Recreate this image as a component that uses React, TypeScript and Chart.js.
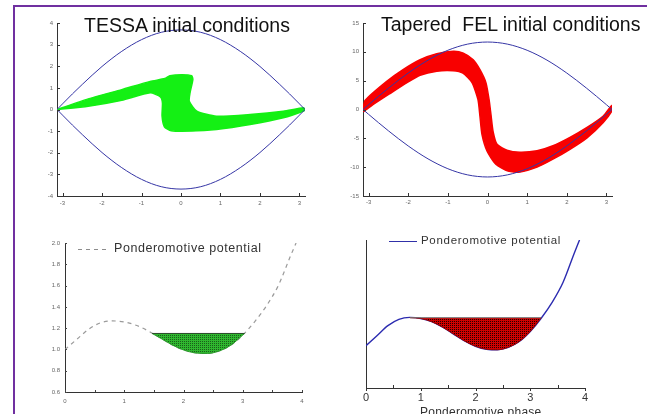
import React, { useEffect, useRef } from 'react';
import { Chart, registerables } from 'chart.js';

Chart.register(...registerables);

const FONT = "'Liberation Sans', Arial, sans-serif";

// ---------- top-left: TESSA ----------
const SEP_PHASE = [-3.14, -3, -2.75, -2.5, -2, -1.5, -1, -0.5, 0, 0.5, 1, 1.5, 2, 2.5, 2.75, 3, 3.14];
const TESSA_SEP_UPPER = [0, 0.26, 0.72, 1.16, 1.99, 2.69, 3.23, 3.57, 3.68, 3.57, 3.23, 2.69, 1.99, 1.16, 0.72, 0.26, 0];
const TESSA_SEP_LOWER = [0, -0.26, -0.72, -1.16, -1.99, -2.69, -3.23, -3.57, -3.68, -3.57, -3.23, -2.69, -1.99, -1.16, -0.72, -0.26, 0];
const TESSA_CLOUD_PHASE = [-3.14, -2.35, -1.5, -0.78, -0.41, -0.28, 0.02, 0.27, 0.3, 0.23, 0.21, 0.4, 0.9, 1.75, 2.59, 3.1, 3.14, 3.09, 2.59, 1.75, 0.9, 0.23, -0.25, -0.42, -0.48, -0.47, -0.52, -0.78, -1.5, -2.35, -3.14];
const TESSA_CLOUD_ENERGY = [0, 0.49, 0.92, 1.3, 1.43, 1.56, 1.61, 1.56, 1.38, 0.78, 0.38, -0.08, -0.31, -0.23, -0.08, 0.08, 0, -0.08, -0.38, -0.69, -0.92, -1.0, -0.98, -0.8, -0.3, 0.3, 0.58, 0.77, 0.43, 0.15, 0];
const TESSA_X_TICKS = [-3, -2, -1, 0, 1, 2, 3];
const TESSA_Y_TICKS = [-4, -3, -2, -1, 0, 1, 2, 3, 4];

// ---------- top-right: tapered FEL ----------
const FEL_SEP_UPPER = [0, 0.83, 2.28, 3.69, 6.32, 8.56, 10.27, 11.34, 11.7, 11.34, 10.27, 8.56, 6.32, 3.69, 2.28, 0.83, 0];
const FEL_SEP_LOWER = [0, -0.83, -2.28, -3.69, -6.32, -8.56, -10.27, -11.34, -11.7, -11.34, -10.27, -8.56, -6.32, -3.69, -2.28, -0.83, 0];
const FEL_CLOUD_PHASE = [-3.14, -3.09, -2.55, -2.13, -1.7, -1.28, -0.86, -0.61, -0.36, -0.19, -0.04, 0.04, 0.09, 0.14, 0.24, 0.49, 0.82, 1.25, 1.65, 2.08, 2.51, 2.92, 3.13, 3.14, 2.92, 2.51, 2.08, 1.65, 1.25, 0.82, 0.52, 0.21, -0.01, -0.14, -0.19, -0.24, -0.39, -0.62, -0.87, -1.28, -1.7, -2.03, -2.46, -2.92, -3.12, -3.14];
const FEL_CLOUD_ENERGY = [0, 1.55, 4.83, 6.9, 8.62, 9.66, 10.09, 9.78, 8.62, 6.9, 4.66, 1.72, -1.03, -3.79, -6.03, -7.07, -7.41, -7.16, -6.29, -4.83, -3.1, -1.12, 0.69, -0.2, -2.24, -4.91, -6.9, -8.62, -10.0, -10.86, -10.69, -9.48, -7.24, -4.31, -1.21, 1.72, 4.66, 6.29, 6.72, 6.64, 5.95, 4.66, 2.76, 0.69, -0.34, 0];
const FEL_X_TICKS = [-3, -2, -1, 0, 1, 2, 3];
const FEL_Y_TICKS = [-15, -10, -5, 0, 5, 10, 15];

// ---------- bottom: ponderomotive potential ----------
const POT_PHASE = [0, 0.2, 0.4, 0.6, 0.8, 1.0, 1.2, 1.4, 1.6, 1.8, 2.0, 2.2, 2.4, 2.6, 2.8, 3.0, 3.2, 3.4, 3.6, 3.8, 3.9];
const POT_VALUE = [1.0, 1.095, 1.19, 1.25, 1.268, 1.258, 1.227, 1.175, 1.11, 1.045, 0.995, 0.967, 0.962, 0.985, 1.04, 1.135, 1.26, 1.41, 1.6, 1.87, 2.0];
const TESSA_WELL_PHASE = [1.47, 1.6, 1.8, 2.0, 2.2, 2.4, 2.6, 2.8, 3.0, 3.03];
const TESSA_WELL_VALUE = [1.15, 1.11, 1.045, 0.995, 0.967, 0.962, 0.985, 1.04, 1.135, 1.15];
const TESSA_LEVEL = 1.15;
const FEL_WELL_PHASE = [0.8, 1.0, 1.2, 1.4, 1.6, 1.8, 2.0, 2.2, 2.4, 2.6, 2.8, 3.0, 3.2];
const FEL_WELL_VALUE = [1.265, 1.258, 1.227, 1.175, 1.11, 1.045, 0.995, 0.967, 0.962, 0.985, 1.04, 1.135, 1.265];
const FEL_LEVEL = 1.265;
const POT_X_TICKS = [0, 1, 2, 3, 4];
const POT_X_MINOR = [0.5, 1.5, 2.5, 3.5];
const POT_Y_TICKS = [0.6, 0.8, 1.0, 1.2, 1.4, 1.6, 1.8, 2.0];

const SEP_COLOR = '#3535a5';
const GREEN = '#14f014';
const RED = '#f80000';

const pts = (xs: number[], ys: number[]) => xs.map((x, i) => ({ x, y: ys[i] }));

const tickMarks = {
  id: 'tickMarks',
  afterDatasetsDraw(chart: any, _args: any, opts: any) {
    const { ctx, chartArea } = chart;
    const xs = chart.scales.x;
    const ys = chart.scales.y;
    ctx.save();
    ctx.strokeStyle = opts.color || '#333';
    ctx.lineWidth = 1;
    const len = opts.len || 3;
    (opts.xUp || []).forEach((v: number) => {
      const p = Math.round(xs.getPixelForValue(v)) + 0.5;
      ctx.beginPath();
      ctx.moveTo(p, chartArea.bottom);
      ctx.lineTo(p, chartArea.bottom - len);
      ctx.stroke();
    });
    (opts.xDown || []).forEach((v: number) => {
      const p = Math.round(xs.getPixelForValue(v)) + 0.5;
      ctx.beginPath();
      ctx.moveTo(p, chartArea.bottom);
      ctx.lineTo(p, chartArea.bottom + len);
      ctx.stroke();
    });
    (opts.yIn || []).forEach((v: number) => {
      const p = Math.round(ys.getPixelForValue(v)) + 0.5;
      ctx.beginPath();
      ctx.moveTo(chartArea.left, p);
      ctx.lineTo(chartArea.left + len, p);
      ctx.stroke();
    });
    ctx.restore();
  },
};

function makePattern(base: string, dot: string) {
  const c = document.createElement('canvas');
  c.width = 2;
  c.height = 2;
  const g = c.getContext('2d')!;
  g.fillStyle = base;
  g.fillRect(0, 0, 2, 2);
  g.fillStyle = dot;
  g.fillRect(0, 0, 1, 1);
  return g.createPattern(c, 'repeat')!;
}

function axis(opts: any) {
  const { min, max, ticks, size, fit, padding, color, show = true, fmt } = opts;
  return {
    type: 'linear',
    min,
    max,
    grid: { display: false, drawTicks: false },
    border: { color: '#333', width: 1 },
    ticks: {
      display: show,
      autoSkip: false,
      maxRotation: 0,
      padding,
      color,
      font: { size, family: FONT },
      callback: fmt || ((v: number) => String(v)),
    },
    afterBuildTicks: (a: any) => {
      a.ticks = ticks.map((v: number) => ({ value: v }));
    },
    afterFit: fit,
  };
}

function phaseSpace(sepUpper: number[], sepLower: number[], cloudX: number[], cloudY: number[], cloudColor: string, yMin: number, yMax: number, xTicks: number[], yTicks: number[], yWidth: number, padRight: number, xPad: number) {
  const sep = (ys: number[]) => ({
    data: pts(SEP_PHASE, ys),
    borderColor: SEP_COLOR,
    borderWidth: 1,
    pointRadius: 0,
    cubicInterpolationMode: 'monotone',
    fill: false,
  });
  return {
    type: 'line',
    data: {
      datasets: [
        sep(sepUpper),
        sep(sepLower),
        {
          data: pts(cloudX, cloudY),
          borderColor: cloudColor,
          backgroundColor: cloudColor,
          borderWidth: 1.5,
          pointRadius: 0,
          tension: 0.2,
          fill: 'shape',
        },
      ],
    },
    options: {
      responsive: false,
      animation: false,
      events: [],
      layout: { padding: { left: 0, right: padRight, top: 23, bottom: 0 } },
      plugins: {
        legend: { display: false },
        tooltip: { enabled: false },
        tickMarks: { xUp: xTicks, yIn: yTicks, len: 3, color: '#333' },
      },
      scales: {
        x: axis({ min: -3.14, max: 3.14, ticks: xTicks, size: 6, padding: xPad, color: '#666', fit: (s: any) => { s.height = 19; } }),
        y: axis({ min: yMin, max: yMax, ticks: yTicks, size: 6, padding: 4, color: '#666', fit: (s: any) => { s.width = yWidth; } }),
      },
    },
    plugins: [tickMarks],
  };
}

function potential(which: 'tessa' | 'fel') {
  const tessa = which === 'tessa';
  const pattern = tessa ? makePattern('#2fb82f', '#1a5e1a') : makePattern('#d00000', '#250000');
  const wellX = tessa ? TESSA_WELL_PHASE : FEL_WELL_PHASE;
  const wellY = tessa ? TESSA_WELL_VALUE : FEL_WELL_VALUE;
  const level = tessa ? TESSA_LEVEL : FEL_LEVEL;
  return {
    type: 'line',
    data: {
      datasets: [
        {
          data: [{ x: wellX[0], y: level }, { x: wellX[wellX.length - 1], y: level }],
          borderColor: tessa ? '#2a4a2a' : '#777',
          borderWidth: 1,
          pointRadius: 0,
          fill: false,
        },
        {
          data: pts(wellX, wellY),
          borderColor: tessa ? '#2a9a2a' : '#9a0000',
          borderWidth: 1,
          backgroundColor: pattern,
          pointRadius: 0,
          cubicInterpolationMode: 'monotone',
          fill: { value: level },
        },
        {
          data: pts(POT_PHASE, POT_VALUE),
          borderColor: tessa ? '#9a9a9a' : '#2b2bb0',
          borderWidth: tessa ? 1.2 : 1.4,
          borderDash: tessa ? [4, 4] : [],
          pointRadius: 0,
          cubicInterpolationMode: 'monotone',
          fill: false,
        },
      ],
    },
    options: {
      responsive: false,
      animation: false,
      events: [],
      layout: { padding: { left: 0, right: tessa ? 18 : 62, top: tessa ? 28 : 25, bottom: 0 } },
      plugins: {
        legend: { display: false },
        tooltip: { enabled: false },
        tickMarks: tessa
          ? { xUp: POT_X_TICKS.concat(POT_X_MINOR), yIn: POT_Y_TICKS, len: 2, color: '#444' }
          : { xUp: POT_X_MINOR, xDown: POT_X_TICKS, len: 3, color: '#333' },
      },
      scales: {
        x: axis({
          min: 0,
          max: 4,
          ticks: POT_X_TICKS,
          size: tessa ? 6 : 11,
          padding: tessa ? 6 : 3,
          color: tessa ? '#666' : '#333',
          fit: (s: any) => { s.height = tessa ? 22 : 26; },
        }),
        y: axis({
          min: 0.6,
          max: 2.0,
          ticks: POT_Y_TICKS,
          size: 6,
          padding: 5,
          color: '#666',
          show: tessa,
          fmt: (v: number) => v.toFixed(1),
          fit: (s: any) => { s.width = tessa ? 65 : 46; },
        }),
      },
    },
    plugins: [tickMarks],
  };
}

function ChartCanvas({ left, top, width, height, build }: any) {
  const ref = useRef<HTMLCanvasElement>(null);
  useEffect(() => {
    const chart = new Chart(ref.current as HTMLCanvasElement, build());
    return () => chart.destroy();
  }, []);
  return (
    <canvas
      ref={ref}
      width={width}
      height={height}
      style={{ position: 'absolute', left, top, width, height }}
    />
  );
}

const textStyle = (left: number, top: number, size: number, spacing: number, color: string): React.CSSProperties => ({
  position: 'absolute',
  left,
  top,
  fontFamily: FONT,
  fontSize: size,
  lineHeight: 1,
  letterSpacing: spacing,
  color,
  whiteSpace: 'pre',
});

export default function App() {
  return (
    <div style={{ position: 'absolute', left: 0, top: 0, width: 647, height: 414, overflow: 'hidden', background: '#fff' }}>
      <ChartCanvas
        left={0}
        top={0}
        width={320}
        height={215}
        build={() => phaseSpace(TESSA_SEP_UPPER, TESSA_SEP_LOWER, TESSA_CLOUD_PHASE, TESSA_CLOUD_ENERGY, GREEN, -4, 4, TESSA_X_TICKS, TESSA_Y_TICKS, 57, 15, 4)}
      />
      <ChartCanvas
        left={320}
        top={0}
        width={327}
        height={215}
        build={() => phaseSpace(FEL_SEP_UPPER, FEL_SEP_LOWER, FEL_CLOUD_PHASE, FEL_CLOUD_ENERGY, RED, -15, 15, FEL_X_TICKS, FEL_Y_TICKS, 43, 35, 3)}
      />
      <ChartCanvas left={0} top={215} width={320} height={199} build={() => potential('tessa')} />
      <ChartCanvas left={320} top={215} width={327} height={199} build={() => potential('fel')} />

      <div style={textStyle(84, 16, 19.5, 0, '#111')}>TESSA initial conditions</div>
      <div style={textStyle(381, 15, 19.5, 0, '#111')}>Tapered  FEL initial conditions</div>

      <div style={{ position: 'absolute', left: 78, top: 248.5, width: 29, height: 1.3, background: 'repeating-linear-gradient(to right, #8c8c8c 0 4.5px, transparent 4.5px 8px)' }} />
      <div style={textStyle(114, 241.7, 12.5, 0.55, '#333')}>Ponderomotive potential</div>

      <div style={{ position: 'absolute', left: 389, top: 240.5, width: 28, height: 1, background: '#3030a8' }} />
      <div style={textStyle(421, 234.6, 11.5, 0.7, '#333')}>Ponderomotive potential</div>

      <div style={textStyle(420, 405.7, 12, 0.25, '#333')}>Ponderomotive phase</div>

      <div style={{ position: 'absolute', left: 13, top: 5, width: 634, height: 2, background: '#7030a0' }} />
      <div style={{ position: 'absolute', left: 13, top: 5, width: 2, height: 409, background: '#7030a0' }} />
    </div>
  );
}
